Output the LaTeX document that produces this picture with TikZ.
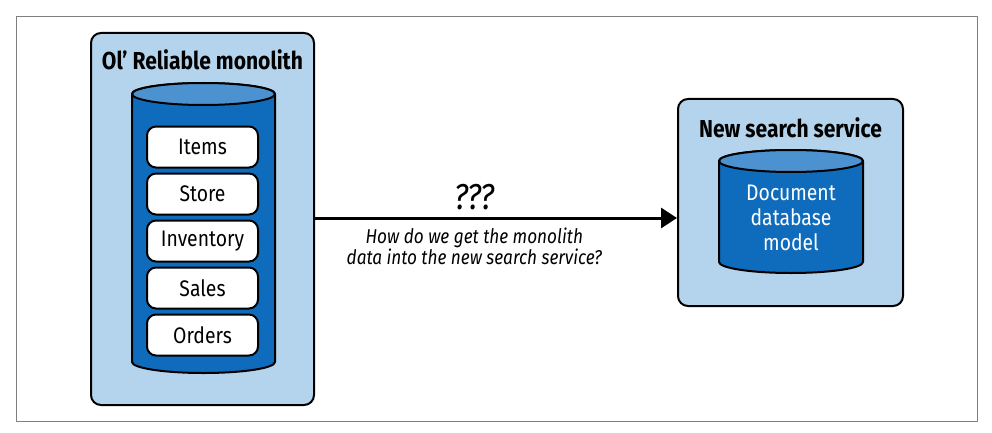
\documentclass[tikz,border=0pt]{standalone}
\usepackage{fontspec}
\setmainfont{Fira Sans}[FakeStretch=0.86]
\usetikzlibrary{arrows.meta}

\definecolor{panelblue}{HTML}{B3D4EC}
\definecolor{dbbody}{HTML}{0F6CBD}
\definecolor{dbtop}{HTML}{4D92D0}
\definecolor{framegray}{HTML}{7F7F7F}

% database drum: centre x, top ellipse centre y, bottom ellipse centre y, x radius
\newcommand{\dbdrum}[4]{%
	\draw[line width=2pt, fill=dbbody] (#1-#4,#2) -- (#1-#4,#3) arc[start angle=180, end angle=360, x radius=#4pt, y radius=11pt]
		-- (#1+#4,#2) arc[start angle=0, end angle=180, x radius=#4pt, y radius=11pt] -- cycle;
	\draw[line width=2pt, fill=dbtop] (#1,#2) ellipse[x radius=#4pt, y radius=11pt];
}

\begin{document}
\begin{tikzpicture}[x=1pt, y=-1pt, line join=round,
	panel/.style={draw=black, line width=2pt, fill=panelblue, rounded corners=10pt, inner sep=0pt},
	tablebox/.style={draw=black, line width=2pt, fill=white, rounded corners=9pt,
		minimum width=111pt, minimum height=41pt, inner sep=0pt, font=\fontsize{22.5}{26}\selectfont},
	heading/.style={font=\fontsize{24.5}{28}\selectfont\bfseries}]

% Frame
\useasboundingbox (0,0) rectangle (992,433);
\draw[framegray, line width=1pt] (16,17) rectangle (977,421);

% Monolith panel
\node[panel, minimum width=223pt, minimum height=372pt] (mono) at (202.5,219) {};
\node[heading] (monotitle) at (202.5,60) {Ol’ Reliable monolith};
\dbdrum{203.5}{94}{362}{71.5}
\coordinate (monodb) at (203.5,228);

% Tables inside the monolith database
\foreach \name [count=\i from 0] in {Items,Store,Inventory,Sales,Orders} {
	\node[tablebox] (table\i) at (202.5,147+47*\i) {\name};
}

% Search service panel
\node[panel, minimum width=225pt, minimum height=207pt] (search) at (790.5,202.5) {};
\node[heading] (searchtitle) at (790.5,128) {New search service};
\dbdrum{791}{161}{262}{72}
\node[text=white, align=center, font=\fontsize{22.5}{25}\selectfont] (doc) at (791,218)
	{Document\\database\\model};

% Open question
\draw[line width=3pt, -{Triangle[length=16pt, width=20pt]}] (mono.east |- 0,218) -- (search.west |- 0,218)
	node[pos=0.44, above=3pt, font=\fontsize{36}{40}\selectfont\itshape] (ask) {???}
	node[pos=0.44, below=5pt, align=center, font=\fontsize{20}{21}\selectfont\itshape] (howto)
	{How do we get the monolith\\data into the new search service?};

\end{tikzpicture}
\end{document}
